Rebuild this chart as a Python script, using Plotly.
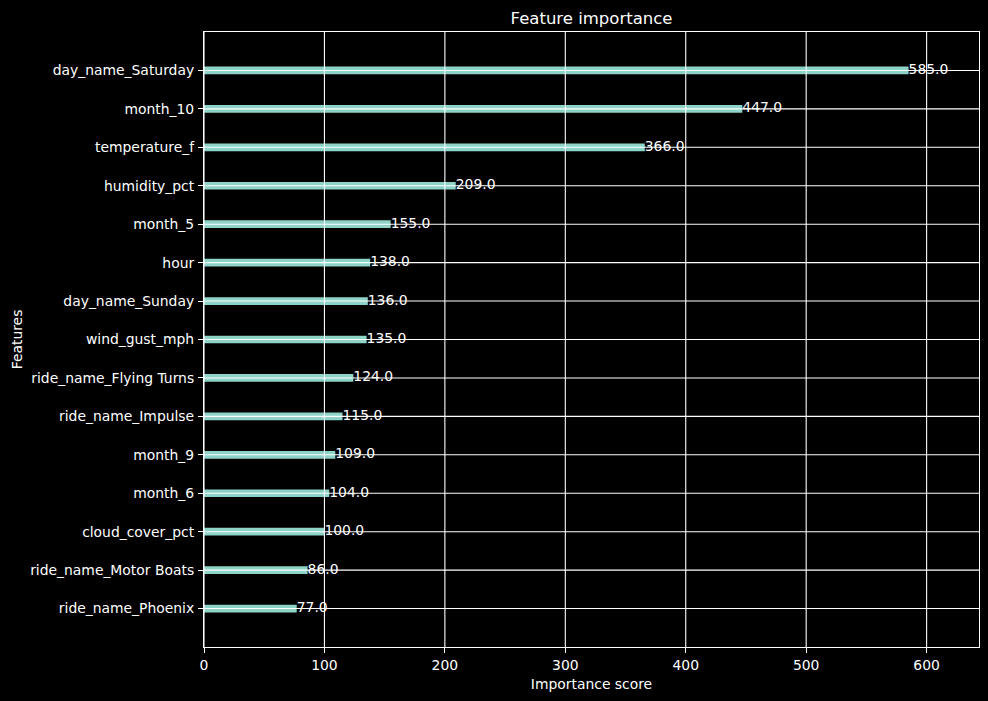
import plotly.graph_objects as go

features = ["ride_name_Phoenix", "ride_name_Motor Boats", "cloud_cover_pct", "month_6", "month_9",
            "ride_name_Impulse", "ride_name_Flying Turns", "wind_gust_mph", "day_name_Sunday", "hour",
            "month_5", "humidity_pct", "temperature_f", "month_10", "day_name_Saturday"]
scores = [77, 86, 100, 104, 109, 115, 124, 135, 136, 138, 155, 209, 366, 447, 585]
x_ticks = [0, 100, 200, 300, 400, 500, 600]

FONT = "DejaVu Sans"
FS = 13.9
bar_color = "#8dd3c7"

fig = go.Figure()
fig.add_trace(go.Bar(x=scores, y=list(range(len(features))), orientation="h", width=0.2,
                     marker=dict(color=bar_color, line=dict(width=0)), hoverinfo="skip"))
fig.add_trace(go.Scatter(x=scores, y=list(range(len(features))), mode="text",
                         text=[f"{v:.1f}" for v in scores], textposition="middle right",
                         textfont=dict(family=FONT, size=FS, color="white"), hoverinfo="skip"))

xmax = max(scores) * 1.1
shapes = []
for t in x_ticks:
    shapes.append(dict(type="line", xref="x", yref="paper", x0=t, x1=t, y0=0, y1=1,
                       line=dict(color="white", width=1.1), layer="above"))
for i in range(len(features)):
    shapes.append(dict(type="line", xref="paper", yref="y", x0=0, x1=1, y0=i, y1=i,
                       line=dict(color="white", width=1.1), layer="above"))

fig.update_layout(
    width=988, height=701,
    margin=dict(l=204, r=9, t=32, b=54),
    paper_bgcolor="black", plot_bgcolor="black",
    showlegend=False,
    font=dict(family=FONT, size=FS, color="white"),
    title=dict(text="Feature importance", x=(204 + 979) / 2 / 988, xanchor="center",
               y=1 - 18 / 701, yanchor="middle", font=dict(family=FONT, size=16.5, color="white")),
    shapes=shapes,
    xaxis=dict(range=[0, xmax], tickvals=x_ticks, ticktext=[str(t) for t in x_ticks],
               showgrid=False, zeroline=False, showline=True, mirror=True, linecolor="white", linewidth=1.1,
               ticks="outside", ticklen=5, tickwidth=1.1, tickcolor="white",
               tickfont=dict(family=FONT, size=FS, color="white"),
               title=dict(text="Importance score", font=dict(family=FONT, size=FS, color="white"), standoff=7)),
    yaxis=dict(range=[-1, len(features)], tickvals=list(range(len(features))), ticktext=features,
               showgrid=False, zeroline=False, showline=True, mirror=True, linecolor="white", linewidth=1.1,
               ticks="outside", ticklen=5, tickwidth=1.1, tickcolor="white", ticklabelstandoff=1,
               tickfont=dict(family=FONT, size=FS, color="white"),
               title=dict(text="Features", font=dict(family=FONT, size=FS, color="white"), standoff=4)),
)

fig.write_html("out.html")
